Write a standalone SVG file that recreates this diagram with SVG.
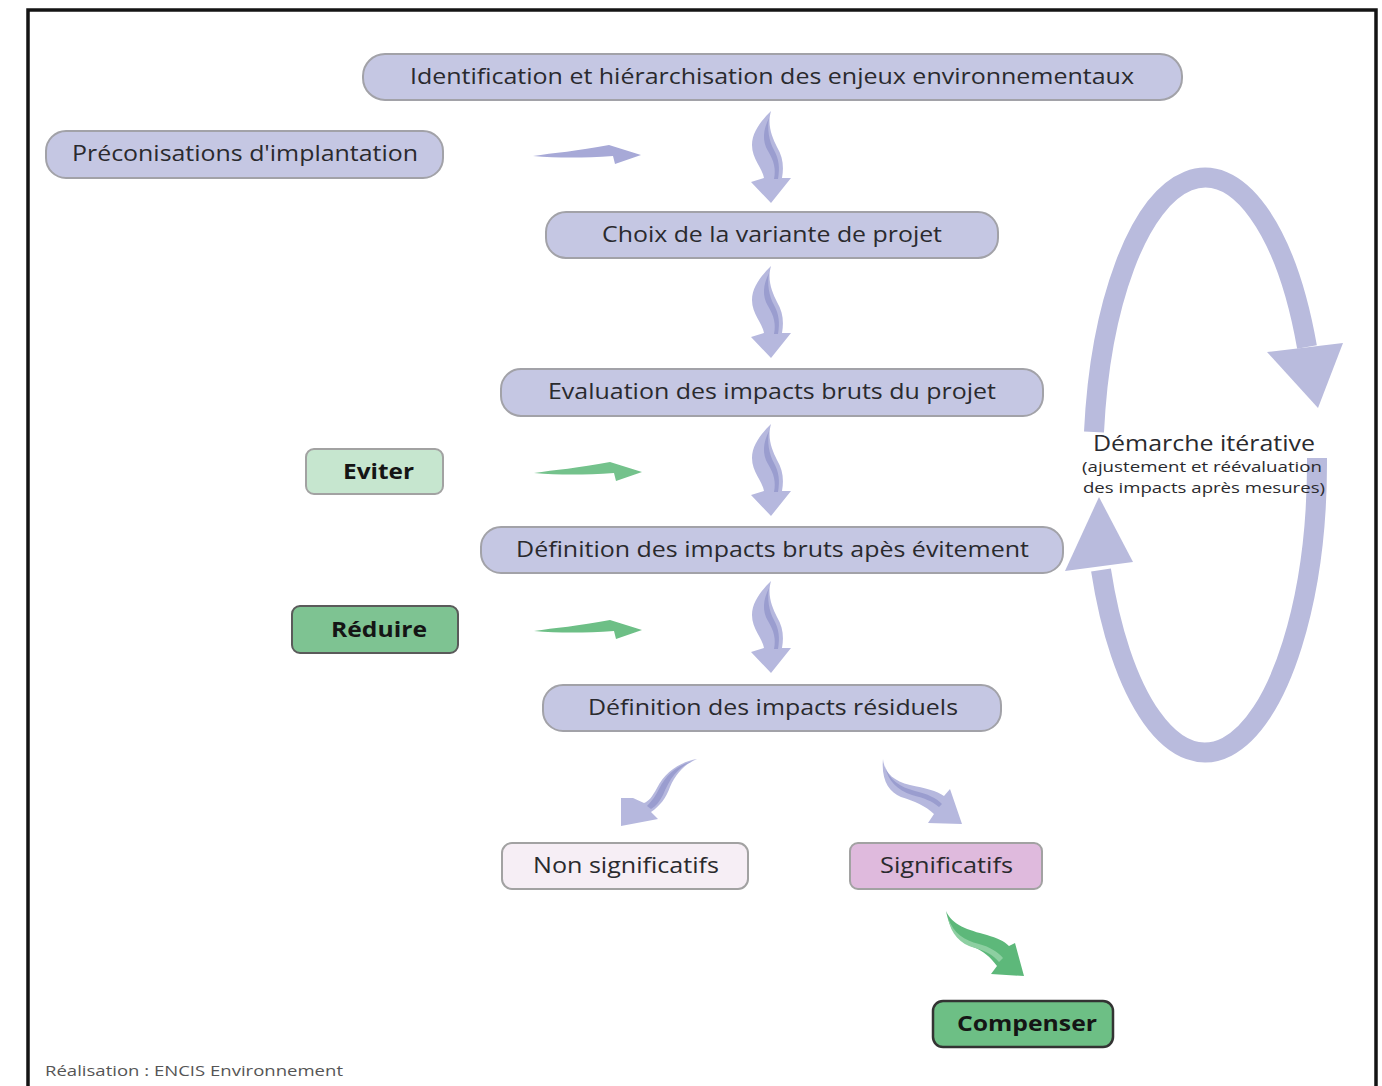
<svg xmlns="http://www.w3.org/2000/svg" xmlns:xlink="http://www.w3.org/1999/xlink" width="1382" height="1086" viewBox="0 0 1382 1086">
<style>
.pill{fill:#c5c7e3;stroke:#a2a2a8;stroke-width:2}
.lbl{font-family:"Open Sans","Noto Sans","Liberation Sans",sans-serif;font-size:21px;fill:#2a2a2e}
.bold{font-weight:bold;fill:#151515}
.rib{fill:#b6b8de}
.ribd{fill:#9a9dcf}
.side{font-family:"Open Sans","Noto Sans","Liberation Sans",sans-serif;fill:#2a2a2e}
</style>
<defs>
<g id="twist">
<path class="rib" d="M0,0 C-8,8 -19,20 -19,34 C-19,48 -9,56 -7,67 L-20,71 L0,92 L20,67 L11,67 C13,56 12,46 6,36 C1,26 -4,14 0,0 Z"/>
<path class="ribd" d="M-2,7 C-8,19 -9,30 -3,40 C3,50 5,58 3,68 L7,68 C9,57 8,48 3,39 C-2,30 -4,18 -2,7 Z"/>
</g>
<path id="harrow" d="M0,1 C20,-2 45,-4 76,-10 L108,0 L82,9 L80,1 C50,3 25,3 0,1 Z"/>
</defs>
<rect width="1382" height="1086" fill="#ffffff"/>
<path d="M28,1086 V10 H1376 V1086" fill="none" stroke="#141414" stroke-width="3.5"/>

<g id="connectors">
<use xlink:href="#twist" href="#twist" transform="translate(771,111)"/>
<use xlink:href="#twist" href="#twist" transform="translate(771,266)"/>
<use xlink:href="#twist" href="#twist" transform="translate(771,424)"/>
<use xlink:href="#twist" href="#twist" transform="translate(771,581)"/>
<use xlink:href="#harrow" href="#harrow" transform="translate(533,155)" fill="#a7a9d7"/>
<use xlink:href="#harrow" href="#harrow" transform="translate(534,472)" fill="#74c28c"/>
<use xlink:href="#harrow" href="#harrow" transform="translate(534,630)" fill="#6dbf86"/>
<path class="rib" d="M697,759 C680,762 665,772 657,788 C652,797 649,801 644,803 L633,798 L621,798 L621,826 L658,819 L651,812 C660,806 666,798 670,787 C676,773 685,764 697,759 Z"/>
<path class="ribd" d="M693,761 C678,767 670,778 663,795 C660,801 656,806 651,809 L647,806 C652,801 656,795 659,789 C666,775 676,766 693,761 Z"/>
<path class="rib" d="M883,759 C884,772 893,781 910,785 C925,788 937,791 944,796 L950,789 L962,824 L928,823 L934,814 C926,806 914,801 901,797 C889,792 881,780 883,759 Z"/>
<path class="ribd" d="M885,766 C889,780 900,787 915,791 C928,794 936,798 942,804 L939,807 C932,801 924,798 912,795 C897,790 888,781 885,766 Z"/>
<path fill="#5db87a" d="M946,911 C952,925 968,930 987,935 C997,938 1004,941 1009,946 L1015,943 L1024,976 L991,974 L997,966 C990,957 984,951 973,947 C960,942 950,932 946,911 Z"/>
<path fill="#8dcfa1" d="M948,918 C954,934 964,940 979,944 C990,947 998,952 1003,958 L999,962 C993,955 986,951 975,948 C960,944 951,934 948,918 Z"/>
<g fill="none" stroke="#b9bbdd" stroke-width="20">
<path d="M1094,432 A112 290 0 0 1 1307,347"/>
<path d="M1317,458 A112 290 0 0 1 1101,570"/>
</g>
<polygon points="1267,352 1343,343 1318,408" fill="#b9bbdd"/>
<polygon points="1065,571 1133,562 1099,497" fill="#b9bbdd"/>
</g>

<g id="n1"><rect class="pill" x="363" y="54" width="819" height="46" rx="22"/><text class="lbl" x="410" y="84" textLength="724" lengthAdjust="spacingAndGlyphs">Identification et hiérarchisation des enjeux environnementaux</text></g>
<g id="n2"><rect class="pill" x="46" y="131" width="397" height="47" rx="20"/><text class="lbl" x="72" y="161" textLength="346" lengthAdjust="spacingAndGlyphs">Préconisations d'implantation</text></g>
<g id="n3"><rect class="pill" x="546" y="212" width="452" height="46" rx="20"/><text class="lbl" x="602" y="242" textLength="340" lengthAdjust="spacingAndGlyphs">Choix de la variante de projet</text></g>
<g id="n4"><rect class="pill" x="501" y="369" width="542" height="47" rx="20"/><text class="lbl" x="548" y="399" textLength="448" lengthAdjust="spacingAndGlyphs">Evaluation des impacts bruts du projet</text></g>
<g id="n5"><rect x="306" y="449" width="137" height="45" rx="8" fill="#c6e6cf" stroke="#a2a2a2" stroke-width="2"/><text class="lbl bold" x="343" y="479" textLength="71" lengthAdjust="spacingAndGlyphs">Eviter</text></g>
<g id="n6"><rect class="pill" x="481" y="527" width="582" height="46" rx="20"/><text class="lbl" x="516" y="557" textLength="513" lengthAdjust="spacingAndGlyphs">Définition des impacts bruts apès évitement</text></g>
<g id="n7"><rect x="292" y="606" width="166" height="47" rx="8" fill="#7ec392" stroke="#5a5a5a" stroke-width="2"/><text class="lbl bold" x="331" y="637" textLength="96" lengthAdjust="spacingAndGlyphs">Réduire</text></g>
<g id="n8"><rect class="pill" x="543" y="685" width="458" height="46" rx="20"/><text class="lbl" x="588" y="715" textLength="370" lengthAdjust="spacingAndGlyphs">Définition des impacts résiduels</text></g>
<g id="n9"><rect x="502" y="843" width="246" height="46" rx="10" fill="#f6eef5" stroke="#a2a2a2" stroke-width="2"/><text class="lbl" x="533" y="873" textLength="186" lengthAdjust="spacingAndGlyphs">Non significatifs</text></g>
<g id="n10"><rect x="850" y="843" width="192" height="46" rx="8" fill="#dfbadd" stroke="#a2a2a2" stroke-width="2"/><text class="lbl" x="880" y="873" textLength="133" lengthAdjust="spacingAndGlyphs">Significatifs</text></g>
<g id="n11"><rect x="933" y="1001" width="180" height="46" rx="10" fill="#6dbf85" stroke="#333333" stroke-width="2.5"/><text class="lbl bold" x="957" y="1031" textLength="140" lengthAdjust="spacingAndGlyphs">Compenser</text></g>

<g id="iterative">
<text class="side" x="1093" y="451" font-size="21" textLength="222" lengthAdjust="spacingAndGlyphs">Démarche itérative</text>
<text class="side" x="1082" y="472" font-size="15" textLength="240" lengthAdjust="spacingAndGlyphs">(ajustement et réévaluation</text>
<text class="side" x="1083" y="493" font-size="15" textLength="242" lengthAdjust="spacingAndGlyphs">des impacts après mesures)</text>
</g>
<text x="45" y="1076" font-family="'Open Sans','Noto Sans','Liberation Sans',sans-serif" font-size="15" fill="#555555" textLength="298" lengthAdjust="spacingAndGlyphs">Réalisation : ENCIS Environnement</text>
</svg>
